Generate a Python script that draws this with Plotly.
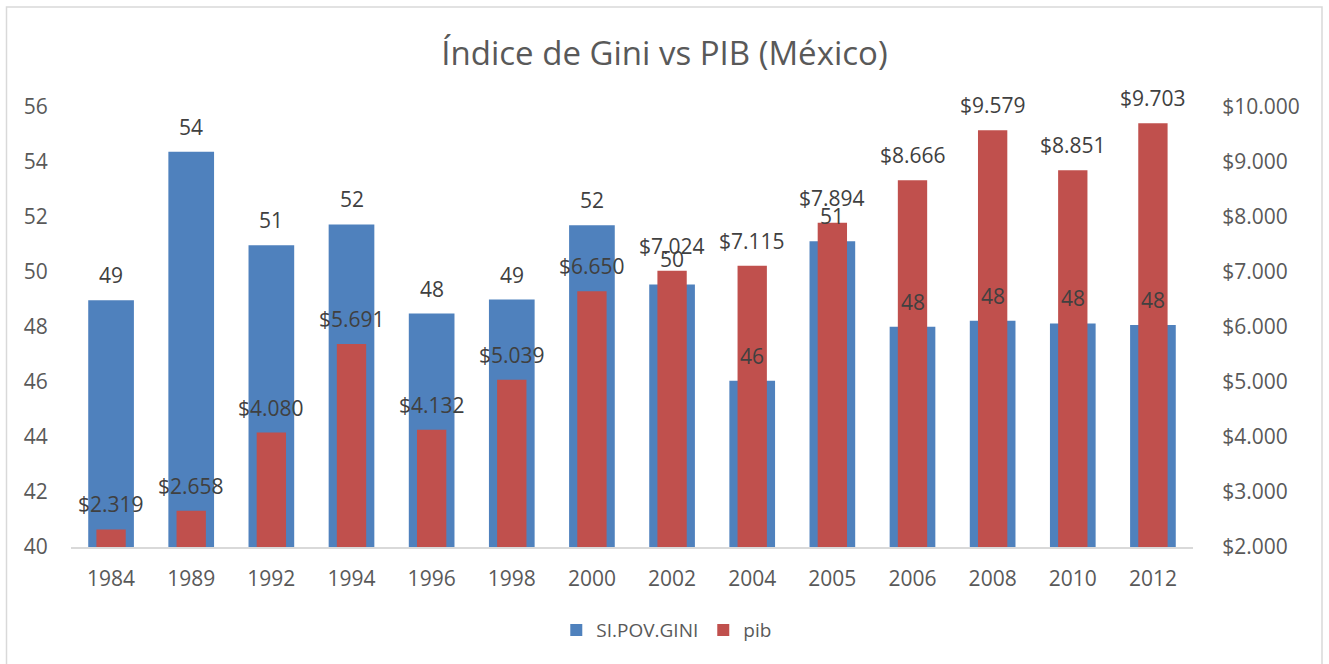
import plotly.graph_objects as go

years = ["1984", "1989", "1992", "1994", "1996", "1998", "2000",
         "2002", "2004", "2005", "2006", "2008", "2010", "2012"]
gini = [48.97, 54.37, 50.97, 51.73, 48.49, 49.0, 51.7,
        49.55, 46.05, 51.12, 48.01, 48.23, 48.13, 48.07]
pib = [2319, 2658, 4080, 5691, 4132, 5039, 6650,
       7024, 7115, 7894, 8666, 9579, 8851, 9703]

BLUE = "#4F81BD"
RED = "#C0504D"
TXT = "#595959"
LBL = "#404040"
FONT = "Open Sans"

W, H = 1329, 664
ML, MR, MT, MB = 71, 136, 107, 117

fig = go.Figure()
fig.add_trace(go.Bar(x=years, y=gini, name="SI.POV.GINI", marker_color=BLUE,
                     marker_line_width=0, width=0.57, yaxis="y"))
fig.add_trace(go.Bar(x=years, y=pib, name="pib", marker_color=RED,
                     marker_line_width=0, width=0.366, yaxis="y2"))

annotations = []
for i, v in enumerate(gini):
    annotations.append(dict(x=i, y=v, xref="x", yref="y", text=f"{v:.0f}",
                            showarrow=False, yanchor="middle", yshift=25,
                            font=dict(family=FONT, size=21, color=LBL)))
for i, v in enumerate(pib):
    annotations.append(dict(x=i, y=v, xref="x", yref="y2",
                            text="$" + f"{v:,}".replace(",", "."),
                            showarrow=False, yanchor="middle", yshift=25,
                            font=dict(family=FONT, size=21, color=LBL)))

pw = W - ML - MR
ph = H - MT - MB
# outer chart border in paper coordinates
x0 = (6.5 - ML) / pw
x1 = (1322 - ML) / pw
y1 = (H - MB - 7) / ph
y0 = (H - MB - 668) / ph

fig.update_layout(
    width=W, height=H,
    margin=dict(l=ML, r=MR, t=MT, b=MB),
    paper_bgcolor="white", plot_bgcolor="white",
    barmode="overlay",
    separators=",.",
    font=dict(family=FONT, size=21, color=TXT),
    title=dict(text="Índice de Gini vs PIB (México)", x=0.5, xref="container",
               xanchor="center", y=1 - 53 / H, yanchor="middle",
               font=dict(family=FONT, size=33, color=TXT)),
    xaxis=dict(type="category", range=[-0.5, len(years) - 0.5],
               showgrid=False, showline=True,
               linecolor="#D9D9D9", linewidth=2, ticks="outside", ticklen=12,
               tickcolor="rgba(0,0,0,0)", tickfont=dict(size=21, color=TXT)),
    yaxis=dict(range=[40, 56], dtick=2, showgrid=False, zeroline=False,
               ticks="outside", ticklen=18, tickcolor="rgba(0,0,0,0)",
               tickfont=dict(size=21, color=TXT)),
    yaxis2=dict(range=[2000, 10000], dtick=1000, overlaying="y", side="right",
                showgrid=False, zeroline=False, tickprefix="$", tickformat=",.0f",
                ticks="outside", ticklen=24, tickcolor="rgba(0,0,0,0)",
                tickfont=dict(size=21, color=TXT)),
    legend=dict(orientation="h", x=0.531, xanchor="center", y=-0.189,
                yanchor="middle", font=dict(size=19, color=TXT),
                itemwidth=30, traceorder="normal"),
    annotations=annotations,
    shapes=[dict(type="rect", xref="paper", yref="paper", x0=x0, x1=x1,
                 y0=y0, y1=y1, line=dict(color="#D9D9D9", width=1.5),
                 fillcolor="rgba(0,0,0,0)", layer="below")],
)

fig.write_html("out.html", config={"displayModeBar": False},
               post_script="document.body.style.margin='0px';")
